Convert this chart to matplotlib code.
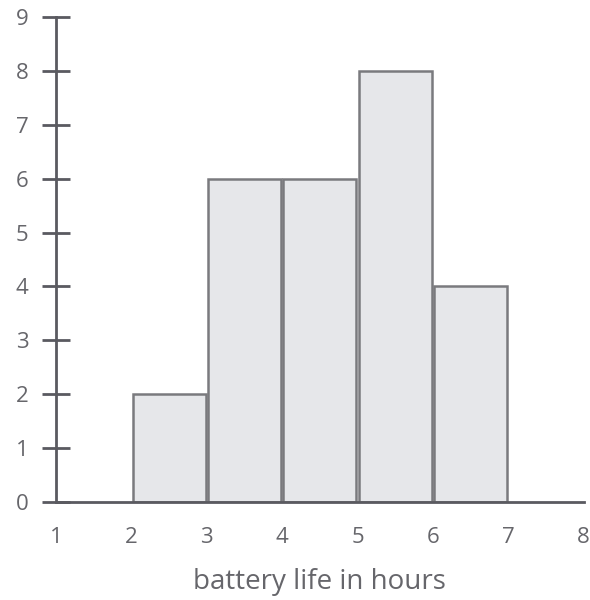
import matplotlib.pyplot as plt

plt.rcParams['font.family'] = ['Open Sans', 'DejaVu Sans']

bin_left = [2, 3, 4, 5, 6]
counts = [2, 6, 6, 8, 4]
x_ticks = [1, 2, 3, 4, 5, 6, 7, 8]
y_ticks = [0, 1, 2, 3, 4, 5, 6, 7, 8, 9]

axis_col = '#5a5a60'
text_col = '#66666b'

fig = plt.figure(figsize=(5.9, 6), dpi=100)
ax = fig.add_axes([0.095, 0.163, 0.894, 0.809])

gap = 0.03
ax.bar([b + gap / 2 for b in bin_left], counts, width=1 - gap, align='edge',
       color='#e6e7ea', edgecolor='#7a7a7e', linewidth=1.8, zorder=2)

ax.set_xlim(1, 8)
ax.set_ylim(0, 9)
ax.set_xticks(x_ticks)
ax.set_yticks(y_ticks)

for s in ['top', 'right']:
    ax.spines[s].set_visible(False)
for s in ['left', 'bottom']:
    ax.spines[s].set_color(axis_col)
    ax.spines[s].set_linewidth(2)
    ax.spines[s].set_zorder(3)

ax.tick_params(axis='y', direction='inout', length=20, width=2, color=axis_col,
               labelsize=16, labelcolor=text_col, pad=10)
ax.tick_params(axis='x', length=0, labelsize=16, labelcolor=text_col, pad=18)

ax.set_xlabel('battery life in hours', fontsize=20, color=text_col, labelpad=14)

fig.savefig('out.png', dpi=100, facecolor='white')
